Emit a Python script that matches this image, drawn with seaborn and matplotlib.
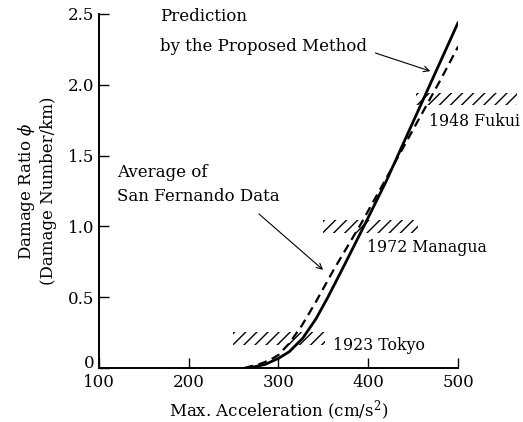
import matplotlib
matplotlib.use("Agg")
import matplotlib.pyplot as plt
import pandas as pd
import seaborn as sns

# curve data
accel_proposed = [267, 285, 300, 312, 327, 342, 355, 372, 395, 420, 440, 460, 480, 500]
ratio_proposed = [0.0, 0.025, 0.068, 0.115, 0.21, 0.35, 0.50, 0.71, 1.00, 1.32, 1.60, 1.88, 2.16, 2.44]

accel_sanfer = [262, 280, 290, 300, 312, 326, 341, 362, 392, 420, 440, 460, 480, 500]
ratio_sanfer = [0.0, 0.03, 0.055, 0.092, 0.174, 0.30, 0.46, 0.70, 1.02, 1.34, 1.57, 1.80, 2.03, 2.27]

# observed earthquake bands: name, x range, y level
quake_names = ["1923 Tokyo", "1972 Managua", "1948 Fukui"]
quake_x0 = [249, 349, 453]
quake_x1 = [352, 455, 565]
quake_y = [0.21, 1.0, 1.90]
quake_label_xy = [(361, 0.16), (398, 0.85), (467, 1.74)]

sns.set_style("ticks")
plt.rcParams["font.family"] = ["DejaVu Serif"]
plt.rcParams["mathtext.fontset"] = "dejavuserif"
plt.rcParams["hatch.linewidth"] = 1.0
plt.rcParams["text.color"] = "black"
plt.rcParams["axes.labelcolor"] = "black"
plt.rcParams["xtick.color"] = "black"
plt.rcParams["ytick.color"] = "black"

FS = 12

fig = plt.figure(figsize=(5.23, 4.22), dpi=100)
ax = fig.add_axes([0.189, 0.128, 0.687, 0.839])

df_prop = pd.DataFrame({"accel": accel_proposed, "ratio": ratio_proposed})
df_sf = pd.DataFrame({"accel": accel_sanfer, "ratio": ratio_sanfer})

sns.lineplot(data=df_prop, x="accel", y="ratio", color="black", lw=2.0, ax=ax)
sns.lineplot(data=df_sf, x="accel", y="ratio", color="black", lw=1.6, ax=ax,
             linestyle=(0, (4, 2.5)))

# hatched bands
for name, x0, x1, y, (lx, ly) in zip(quake_names, quake_x0, quake_x1, quake_y, quake_label_xy):
    ax.fill_between([x0, x1], y - 0.045, y + 0.045, facecolor="none", edgecolor="black",
                    hatch="///", lw=0, clip_on=False)
    ax.text(lx, ly, name, fontsize=11.3, ha="left", va="center")

# annotations
ax.text(168, 2.48, "Prediction", fontsize=FS, ha="left", va="center")
ax.text(168, 2.27, "by the Proposed Method", fontsize=FS, ha="left", va="center")
ax.annotate("", xy=(472, 2.09), xytext=(405, 2.23),
            arrowprops=dict(arrowstyle="->", color="black", lw=0.8))

ax.text(120, 1.38, "Average of", fontsize=FS, ha="left", va="center")
ax.text(120, 1.21, "San Fernando Data", fontsize=FS, ha="left", va="center")
ax.annotate("", xy=(352, 0.68), xytext=(276, 1.10),
            arrowprops=dict(arrowstyle="->", color="black", lw=0.8))

ax.set_xlim(100, 500)
ax.set_ylim(0, 2.5)
ax.set_xticks([100, 200, 300, 400, 500])
ax.set_yticks([0, 0.5, 1.0, 1.5, 2.0, 2.5])
ax.set_yticklabels(["0", "0.5", "1.0", "1.5", "2.0", "2.5"])
ax.tick_params(direction="in", length=7, width=1.0, labelsize=FS, pad=4)
ax.tick_params(axis="y", pad=3)
ax.get_yticklabels()[0].set_va("baseline")
for s in ["top", "right"]:
    ax.spines[s].set_visible(False)
for s in ["left", "bottom"]:
    ax.spines[s].set_linewidth(1.4)
    ax.spines[s].set_color("black")

ax.set_xlabel("Max. Acceleration (cm/s$^2$)", fontsize=FS, labelpad=6)
ax.set_ylabel("Damage Ratio $\\phi$\n(Damage Number/km)", fontsize=FS, labelpad=8)

fig.savefig("out.png", dpi=100)
